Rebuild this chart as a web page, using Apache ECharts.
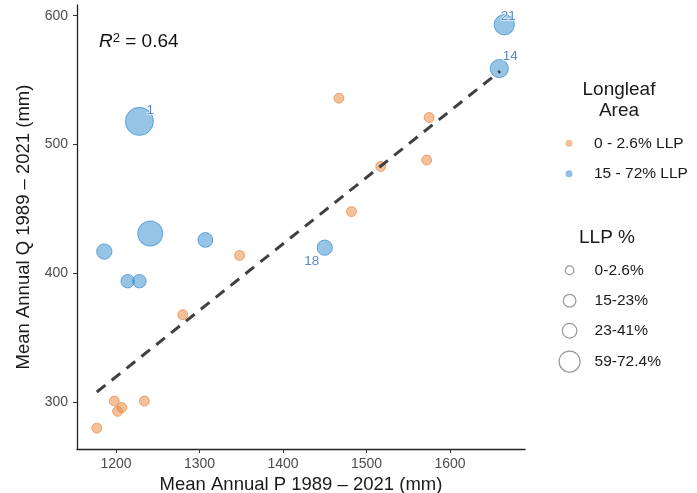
<!DOCTYPE html>
<html><head><meta charset="utf-8">
<script src="https://cdn.jsdelivr.net/npm/echarts@6/dist/echarts.min.js"></script>
<style>html,body{margin:0;padding:0;background:#fff}#c{width:697px;height:493px}</style>
</head><body><div id="c"></div>
<script>
// ---- data ----
const lowP   = [1177, 1198, 1202, 1207, 1234, 1280, 1348, 1467, 1482, 1517, 1572, 1575];
const lowQ   = [280, 301, 293, 296, 301, 368, 414, 536, 448, 483, 488, 521];
const lowLLP = [1.5, 1.5, 1.5, 1.5, 1.5, 1.5, 1.5, 1.5, 1.5, 1.5, 1.5, 1.5];

const highP     = [1228, 1241, 1186, 1214, 1228, 1307, 1450, 1659, 1665];
const highQ     = [518, 431, 417, 394, 394, 426, 420, 559, 593];
const highLLP   = [70, 58, 22, 15, 15, 20, 22, 33, 41];
const highLabel = ['1', '', '', '', '', '', '18', '14', '21'];

const fitP = [1177, 1660];
const fitQ = [308, 557];

const xTicks = [1200, 1300, 1400, 1500, 1600];
const yTicks = [300, 400, 500, 600];

const groupNames = ['0 - 2.6% LLP', '15 - 72% LLP'];
const sizeNames  = ['0-2.6%', '15-23%', '23-41%', '59-72.4%'];
const r2Text = '0.64';

// ---- styles ----
const FONT = 'Liberation Sans, Arial, sans-serif';
const labelOffsets = { '1': [11, -11], '18': [-13, 14], '14': [11, -12], '21': [4, -8] };
const sizeOf = v => 9.5 + 0.265 * v;
const sizeLegendDiam = [8.6, 12.6, 14.6, 21];
const sizeLegendCY = [270, 300.5, 330.5, 361];
const LEG_FS = 15.5;
const orangeStyle = { color: 'rgba(235,140,70,0.68)', borderColor: 'rgba(228,128,55,0.85)', borderWidth: 1 };
const blueStyle = { color: 'rgba(68,150,208,0.7)', borderColor: 'rgba(50,135,205,0.85)', borderWidth: 1 };
const hollow = { color: 'rgba(0,0,0,0)', borderColor: '#808080', borderWidth: 1.2 };

const chart = echarts.init(document.getElementById('c'));

const sizeLegends = sizeNames.map((n, i) => ({
  orient: 'vertical', padding: 0,
  left: 569 - sizeLegendDiam[i] / 2,
  top: sizeLegendCY[i] - Math.max(sizeLegendDiam[i], LEG_FS) / 2,
  itemWidth: 40, itemHeight: sizeLegendDiam[i],
  icon: 'circle', selectedMode: false,
  itemStyle: hollow,
  textStyle: { fontSize: LEG_FS, color: '#1a1a1a', fontFamily: FONT },
  data: [n]
}));

chart.setOption({
  animation: false,
  textStyle: { fontFamily: FONT },
  grid: { left: 77, right: 172, top: 5, bottom: 44, containLabel: false, outerBoundsMode: 'none' },
  xAxis: {
    type: 'value', min: 1153.3, max: 1689.8,
    name: 'Mean Annual P 1989 – 2021 (mm)', nameLocation: 'middle', nameGap: 26,
    nameTextStyle: { fontSize: 18.5, color: '#1a1a1a', fontFamily: FONT },
    axisLine: { show: true, onZero: false, lineStyle: { color: '#222', width: 1.3 } },
    axisTick: { show: true, length: 4, customValues: xTicks, lineStyle: { color: '#333' } },
    axisLabel: { customValues: xTicks, formatter: v => String(v), fontSize: 14, color: '#4d4d4d', margin: 8, fontFamily: FONT },
    splitLine: { show: false }
  },
  yAxis: {
    type: 'value', min: 263.8, max: 608.3,
    name: 'Mean Annual Q 1989 – 2021 (mm)', nameLocation: 'middle', nameGap: 38,
    nameTextStyle: { fontSize: 18.5, color: '#1a1a1a', fontFamily: FONT },
    axisLine: { show: true, onZero: false, lineStyle: { color: '#222', width: 1.3 } },
    axisTick: { show: true, length: 4, customValues: yTicks, lineStyle: { color: '#333' } },
    axisLabel: { customValues: yTicks, formatter: v => String(v), fontSize: 14, color: '#4d4d4d', margin: 9, fontFamily: FONT },
    splitLine: { show: false }
  },
  legend: [{
    orient: 'vertical', padding: 0, left: 569 - 3.5, top: 143 - LEG_FS / 2,
    itemWidth: 40, itemHeight: 7, itemGap: 30 - LEG_FS,
    icon: 'circle', selectedMode: false,
    textStyle: { fontSize: LEG_FS, color: '#1a1a1a', fontFamily: FONT },
    data: [
      { name: groupNames[0], itemStyle: { color: 'rgba(235,140,70,0.7)', borderWidth: 0 } },
      { name: groupNames[1], itemStyle: { color: 'rgba(68,150,208,0.75)', borderWidth: 0 } }
    ]
  }].concat(sizeLegends),
  graphic: [
    { type: 'text', x: 619, y: 79, style: { text: 'Longleaf\nArea', align: 'center', fontSize: 19, lineHeight: 21, fill: '#1a1a1a', fontFamily: FONT } },
    { type: 'text', x: 607, y: 228, style: { text: 'LLP %', align: 'center', fontSize: 19, fill: '#1a1a1a', fontFamily: FONT } },
    { type: 'text', x: 99, y: 32, style: {
        text: '{i|R}{s|2}{n| = ' + r2Text + '}', fill: '#111', fontFamily: FONT,
        rich: { i: { fontStyle: 'italic', fontSize: 19, fontFamily: FONT }, s: { fontSize: 13, verticalAlign: 'top', fontFamily: FONT }, n: { fontSize: 19, fontFamily: FONT } }
    } }
  ],
  series: [
    {
      type: 'scatter', name: groupNames[0], z: 2,
      data: lowP.map((p, i) => [p, lowQ[i], lowLLP[i]]),
      symbolSize: d => sizeOf(d[2]),
      itemStyle: orangeStyle
    },
    {
      type: 'scatter', name: groupNames[1], z: 3,
      data: highP.map((p, i) => ({
        value: [p, highQ[i], highLLP[i]],
        label: highLabel[i] ? { show: true, formatter: highLabel[i], offset: labelOffsets[highLabel[i]] } : { show: false }
      })),
      symbolSize: d => sizeOf(d[2]),
      itemStyle: blueStyle,
      label: { position: 'inside', fontSize: 13.5, color: '#2d6db5', textBorderColor: '#fff', textBorderWidth: 1.5, fontFamily: FONT }
    },
    {
      type: 'line', name: 'fit', z: 5, silent: true, symbol: 'none',
      data: fitP.map((p, i) => [p, fitQ[i]]),
      lineStyle: { type: [11, 8], width: 3, color: '#404040' }
    }
  ].concat(sizeNames.map(n => ({ type: 'scatter', name: n, data: [], itemStyle: hollow })))
});
</script>
</body></html>
